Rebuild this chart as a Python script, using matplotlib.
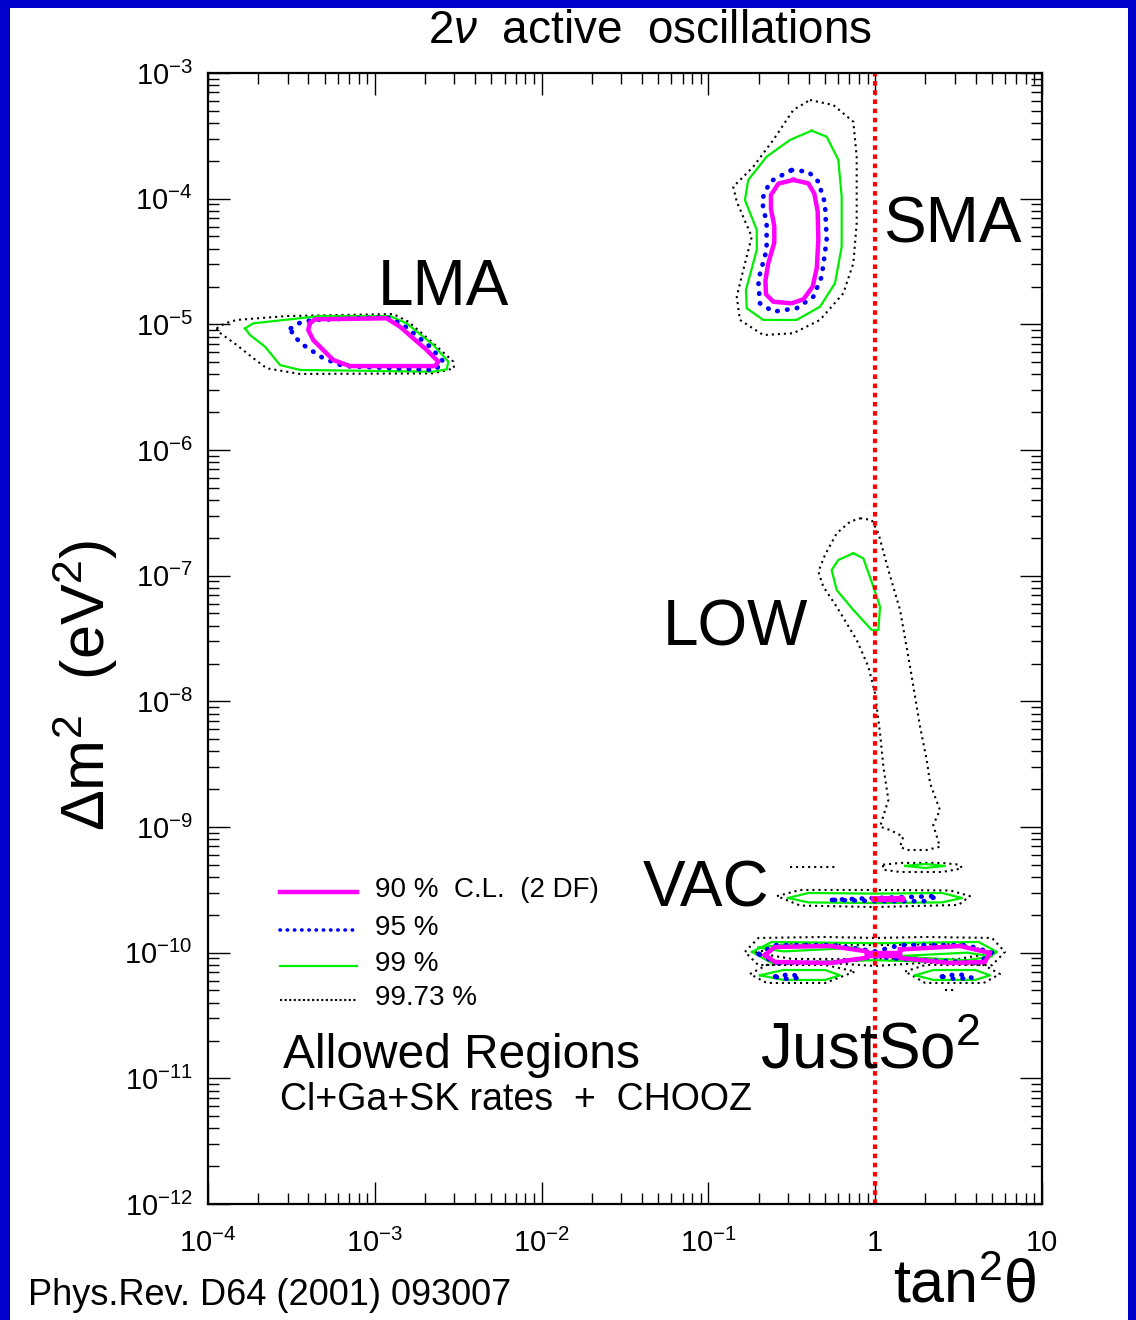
import numpy as np
import matplotlib
matplotlib.use("Agg")
import matplotlib.pyplot as plt
from matplotlib.ticker import LogLocator, FuncFormatter, NullFormatter
from matplotlib.patches import Rectangle

plt.rcParams["font.family"] = ["Liberation Sans", "DejaVu Sans"]
plt.rcParams["mathtext.fontset"] = "custom"
plt.rcParams["mathtext.rm"] = "Liberation Sans"
plt.rcParams["mathtext.it"] = "Liberation Sans:italic"

# allowed-region contours, (log10 tan^2 theta, log10 dm^2 / eV^2)
lma_90 = [(-3.389, -4.992), (-3.359, -4.960), (-2.929, -4.952), (-2.849, -5.019), (-2.689, -5.204),
          (-2.619, -5.297), (-2.639, -5.332), (-3.149, -5.332), (-3.249, -5.284), (-3.369, -5.125),
          (-3.399, -5.045)]
lma_95 = [(-3.504, -5.032), (-3.448, -4.987), (-3.369, -4.965), (-2.929, -4.944), (-2.829, -5.005),
          (-2.669, -5.178), (-2.589, -5.297), (-2.639, -5.363), (-3.189, -5.332), (-3.309, -5.270),
          (-3.429, -5.164), (-3.492, -5.085)]
lma_99 = [(-3.778, -5.032), (-3.728, -4.992), (-3.329, -4.934), (-2.909, -4.934), (-2.809, -4.992),
          (-2.649, -5.164), (-2.559, -5.297), (-2.569, -5.358), (-2.649, -5.377), (-3.448, -5.363),
          (-3.568, -5.324), (-3.658, -5.178), (-3.748, -5.085)]
lma_9973 = [(-3.948, -5.032), (-3.898, -4.992), (-3.828, -4.965), (-3.528, -4.934), (-2.889, -4.918),
            (-2.799, -4.979), (-2.649, -5.151), (-2.529, -5.297), (-2.525, -5.350), (-2.649, -5.390),
            (-3.448, -5.395), (-3.648, -5.350), (-3.728, -5.270), (-3.828, -5.164), (-3.938, -5.059)]

sma_90 = [(-0.491, -3.851), (-0.401, -3.878), (-0.365, -3.96), (-0.345, -4.10), (-0.341, -4.329),
          (-0.350, -4.55), (-0.375, -4.70), (-0.430, -4.80), (-0.501, -4.833), (-0.611, -4.820),
          (-0.655, -4.760), (-0.658, -4.650), (-0.641, -4.514), (-0.605, -4.35), (-0.605, -4.22),
          (-0.625, -4.08), (-0.625, -3.97), (-0.58, -3.88)]
sma_95 = [(-0.501, -3.772), (-0.401, -3.785), (-0.341, -3.865), (-0.301, -4.037), (-0.291, -4.329),
          (-0.321, -4.621), (-0.371, -4.780), (-0.471, -4.872), (-0.611, -4.899), (-0.691, -4.833),
          (-0.701, -4.647), (-0.651, -4.408), (-0.651, -4.196), (-0.680, -4.011), (-0.631, -3.865)]
sma_99 = [(-0.381, -3.459), (-0.291, -3.507), (-0.221, -3.692), (-0.201, -3.984), (-0.201, -4.382),
          (-0.241, -4.673), (-0.331, -4.860), (-0.471, -4.965), (-0.671, -4.965), (-0.770, -4.872),
          (-0.775, -4.727), (-0.710, -4.408), (-0.710, -4.249), (-0.781, -4.011), (-0.761, -3.851),
          (-0.651, -3.666), (-0.511, -3.533)]
sma_9973 = [(-0.391, -3.215), (-0.251, -3.255), (-0.131, -3.388), (-0.111, -3.666), (-0.111, -4.196),
            (-0.131, -4.514), (-0.191, -4.753), (-0.331, -4.965), (-0.491, -5.071), (-0.671, -5.085),
            (-0.811, -4.965), (-0.830, -4.780), (-0.791, -4.568), (-0.740, -4.303), (-0.830, -4.024),
            (-0.851, -3.905), (-0.731, -3.746), (-0.611, -3.533), (-0.491, -3.294)]

low_99 = [(-0.131, -6.822), (-0.071, -6.862), (-0.011, -7.088), (0.029, -7.247), (0.019, -7.432),
          (-0.021, -7.432), (-0.131, -7.273), (-0.231, -7.114), (-0.261, -6.955), (-0.221, -6.875)]
low_9973 = [(-0.091, -6.543), (-0.021, -6.557), (0.019, -6.663), (0.079, -6.955), (0.149, -7.273),
            (0.209, -7.724), (0.269, -8.202), (0.309, -8.467), (0.329, -8.652), (0.388, -8.865),
            (0.348, -8.984), (0.388, -9.157), (0.309, -9.183), (0.189, -9.183), (0.149, -9.157),
            (0.168, -9.077), (0.089, -9.024), (0.029, -8.997), (0.079, -8.785), (0.049, -8.520),
            (0.029, -8.254), (-0.001, -7.936), (-0.041, -7.724), (-0.111, -7.512), (-0.231, -7.247),
            (-0.311, -7.088), (-0.341, -6.968), (-0.301, -6.835), (-0.231, -6.663), (-0.151, -6.571)]

vac_90 = [(-0.013, -9.568), (0.167, -9.565), (0.167, -9.580), (-0.013, -9.580)]
vac_95 = [(-0.259, -9.580), (0.0, -9.565), (0.371, -9.550), (0.300, -9.590), (0.0, -9.590)]
vac_99 = [(-0.523, -9.565), (-0.40, -9.525), (0.0, -9.530), (0.40, -9.525), (0.520, -9.565),
          (0.40, -9.600), (0.0, -9.605), (-0.40, -9.600)]
vac_9973 = [(-0.589, -9.550), (-0.45, -9.501), (0.0, -9.501), (0.45, -9.505), (0.568, -9.550),
            (0.50, -9.620), (0.0, -9.637), (-0.45, -9.625)]
vac_hi_99 = [(0.179, -9.310), (0.30, -9.294), (0.418, -9.310), (0.30, -9.326)]
vac_hi_9973 = [(0.047, -9.300), (0.15, -9.286), (0.40, -9.286), (0.508, -9.300), (0.520, -9.330),
               (0.40, -9.358), (0.15, -9.358), (0.047, -9.340)]
vac_hi_9973_open = [(-0.511, -9.316), (-0.229, -9.316)]

js_90_left = [(-0.661, -10.018), (-0.601, -9.955), (-0.271, -9.947), (-0.05, -9.99),
              (-0.05, -10.04), (-0.271, -10.082), (-0.601, -10.074)]
js_90_mid = [(-0.05, -10.0), (0.15, -10.0), (0.15, -10.03), (-0.05, -10.03)]
js_90_right = [(0.149, -9.975), (0.508, -9.947), (0.688, -10.002), (0.658, -10.074),
               (0.448, -10.082), (0.149, -10.042)]
js_95 = [(-0.70, -10.01), (-0.60, -9.94), (-0.25, -9.94), (0.0, -9.99), (0.15, -9.94), (0.55, -9.94),
         (0.70, -10.0), (0.62, -10.08), (0.15, -10.05), (0.0, -10.03), (-0.25, -10.08), (-0.60, -10.08)]
js_95_lo_left = [(-0.60, -10.19), (-0.50, -10.17), (-0.45, -10.20), (-0.55, -10.21)]
js_95_lo_right = [(0.40, -10.19), (0.50, -10.17), (0.58, -10.20), (0.48, -10.21)]
js_99 = [(-0.739, -9.994), (-0.62, -9.915), (0.0, -9.925), (0.62, -9.915), (0.730, -9.994),
         (0.62, -10.082), (0.0, -10.06), (-0.62, -10.082)]
js_99_in_left = [(-0.70, -9.96), (-0.55, -9.935), (-0.10, -9.96), (-0.55, -9.99)]
js_99_in_right = [(0.10, -10.03), (0.55, -10.00), (0.70, -10.03), (0.55, -10.06)]
js_99_lo_left = [(-0.691, -10.18), (-0.55, -10.138), (-0.30, -10.138), (-0.211, -10.18),
                 (-0.30, -10.217), (-0.55, -10.217)]
js_99_lo_right = [(0.239, -10.18), (0.35, -10.138), (0.60, -10.138), (0.688, -10.18),
                  (0.60, -10.217), (0.35, -10.217)]
js_9973 = [(-0.781, -9.994), (-0.70, -9.883), (-0.3, -9.875), (0.0, -9.883), (0.3, -9.875),
           (0.70, -9.883), (0.778, -9.994), (0.70, -10.10), (0.3, -10.08), (0.0, -10.106),
           (-0.3, -10.08), (-0.70, -10.10)]
js_9973_in = [(-0.72, -10.0), (-0.5, -9.93), (0.0, -9.94), (0.5, -9.93), (0.72, -10.0),
              (0.5, -10.05), (0.0, -10.05), (-0.5, -10.05)]
js_9973_lo_left = [(-0.751, -10.17), (-0.65, -10.098), (-0.30, -10.098), (-0.121, -10.15),
                   (-0.30, -10.241), (-0.65, -10.241)]
js_9973_lo_right = [(0.179, -10.15), (0.30, -10.098), (0.65, -10.098), (0.748, -10.17),
                    (0.65, -10.241), (0.30, -10.241)]
js_9973_open = [(0.42, -10.297), (0.48, -10.297)]

cl_labels = ["90 %  C.L.  (2 DF)", "95 %", "99 %", "99.73 %"]
cl90 = [lma_90, sma_90, vac_90, js_90_left, js_90_mid, js_90_right]
cl95 = [lma_95, sma_95, vac_95, js_95, js_95_lo_left, js_95_lo_right]
cl99 = [lma_99, sma_99, low_99, vac_99, vac_hi_99, js_99, js_99_in_left, js_99_in_right,
        js_99_lo_left, js_99_lo_right]
cl9973 = [lma_9973, sma_9973, low_9973, vac_9973, vac_hi_9973, js_9973, js_9973_in,
          js_9973_lo_left, js_9973_lo_right]
cl9973_open = [vac_hi_9973_open, js_9973_open]

styles = {
    "90": dict(color="#ff00ff", lw=3.2, ls="-", solid_joinstyle="round"),
    "95": dict(color="#0000ff", lw=3.4, ls=(0, (0.1, 2.0)), dash_capstyle="round"),
    "99": dict(color="#00ee00", lw=1.6, ls="-", solid_joinstyle="round"),
    "9973": dict(color="black", lw=1.5, ls=(0, (1, 1.9))),
}


def draw(ax, pts, style, closed=True):
    p = np.array(pts)
    if closed:
        p = np.vstack([p, p[:1]])
    ax.plot(10 ** p[:, 0], 10 ** p[:, 1], **style)


fig = plt.figure(figsize=(11.36, 13.2), dpi=100, facecolor="#0000cc")
fig.patches.append(Rectangle((10 / 1136, 0), 1118 / 1136, 1312 / 1320,
                             transform=fig.transFigure, facecolor="white", edgecolor="none", zorder=-10))

ax = fig.add_axes([208 / 1136, 116 / 1320, 834 / 1136, 1131 / 1320])
ax.set_facecolor("white")
ax.set_xscale("log")
ax.set_yscale("log")
ax.set_xlim(1e-4, 10)
ax.set_ylim(1e-12, 1e-3)

for pts in cl9973:
    draw(ax, pts, styles["9973"])
for pts in cl9973_open:
    draw(ax, pts, styles["9973"], closed=False)
for pts in cl99:
    draw(ax, pts, styles["99"])
for pts in cl95:
    draw(ax, pts, styles["95"])
for pts in cl90:
    draw(ax, pts, styles["90"])

ax.axvline(1.0, color="#ff0000", lw=3, ls=(0, (1.1, 1.1)))


def log_fmt(v, pos):
    e = int(round(np.log10(v)))
    if e == 0:
        return "1"
    if e == 1:
        return "10"
    return r"$10^{%d}$" % e


for axis in (ax.xaxis, ax.yaxis):
    axis.set_major_locator(LogLocator(base=10, numticks=20))
    axis.set_minor_locator(LogLocator(base=10, subs=np.arange(2, 10), numticks=20))
    axis.set_major_formatter(FuncFormatter(log_fmt))
    axis.set_minor_formatter(NullFormatter())

ax.tick_params(which="both", direction="in", top=True, right=True, width=1, labelsize=21)
ax.tick_params(which="major", length=16)
ax.tick_params(which="minor", length=8)
ax.tick_params(axis="x", pad=18)
ax.tick_params(axis="y", pad=11)
for s in ax.spines.values():
    s.set_linewidth(1.6)

# legend drawn by hand, like the original
legend_rows = [0.2776, 0.2440, 0.2122, 0.1821]
for key, label, y in zip(["90", "95", "99", "9973"], cl_labels, legend_rows):
    st = dict(styles[key])
    if key == "95":
        st["lw"] = 2.6
        st["ls"] = (0, (0.1, 1.9))
    if key == "9973":
        st["ls"] = (0, (1, 1.2))
    ax.plot([0.0863, 0.1787], [y - 0.002, y - 0.002], transform=ax.transAxes, **st)
    ax.text(0.2002, y, label, transform=ax.transAxes, fontsize=20, va="center", ha="left")

big = 46
ax.text(0.2038, 0.7949, "LMA", transform=ax.transAxes, fontsize=big)
ax.text(0.8094, 0.8497, "SMA", transform=ax.transAxes, fontsize=big)
ax.text(0.5456, 0.4934, "LOW", transform=ax.transAxes, fontsize=big)
ax.text(0.5216, 0.2626, "VAC", transform=ax.transAxes, fontsize=big)
ax.text(0.6619, 0.1202, r"JustSo$^2$", transform=ax.transAxes, fontsize=big)
ax.text(0.0899, 0.1202, "Allowed Regions", transform=ax.transAxes, fontsize=34.5)
ax.text(0.0863, 0.0831, "Cl+Ga+SK rates  +  CHOOZ", transform=ax.transAxes, fontsize=27)

fig.text(0.572, 0.9765, r"2$\nu$  active  oscillations", fontsize=33, ha="center", va="center")
fig.text(0.0748, 0.481, r"$\Delta$m$^2$  (eV$^2$)", fontsize=44, rotation=90, ha="center", va="center")
fig.text(0.786, 0.0129, "tan$^2$θ", fontsize=44, ha="left", va="baseline")
fig.text(0.0246, 0.0115, "Phys.Rev. D64 (2001) 093007", fontsize=26, ha="left", va="baseline")

fig.savefig("out.png", dpi=100, facecolor=fig.get_facecolor())
